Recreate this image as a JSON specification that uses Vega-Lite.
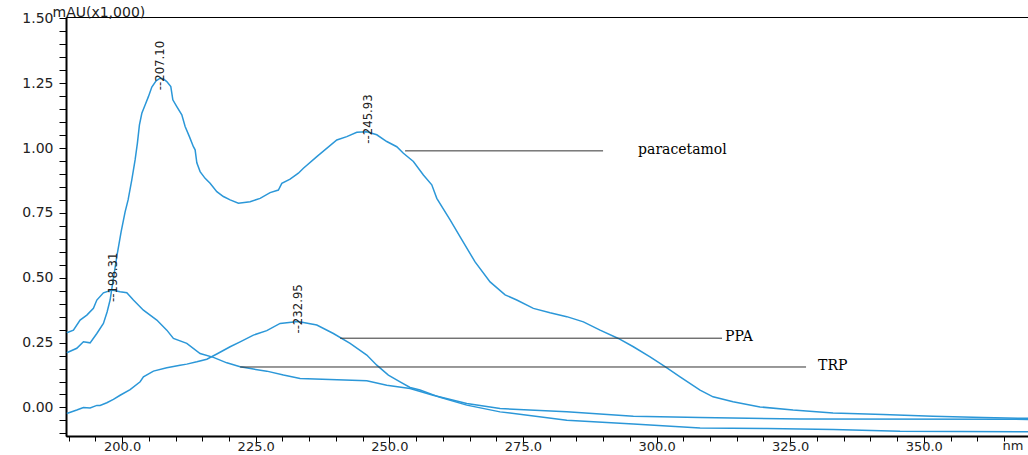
{
  "$schema": "https://vega.github.io/schema/vega-lite/v6.json",
  "width": 962,
  "height": 419,
  "autosize": {"type": "none"},
  "padding": {"left": 66, "top": 17, "right": 0, "bottom": 19},
  "background": "white",
  "config": {
    "view": {"stroke": "black", "strokeWidth": 1},
    "axis": {"grid": false}
  },
  "datasets": {
    "spectra": [
      {"series": "paracetamol", "nm": 189.65, "au": 0.211},
      {"series": "paracetamol", "nm": 191.52, "au": 0.228},
      {"series": "paracetamol", "nm": 192.76, "au": 0.253},
      {"series": "paracetamol", "nm": 194.01, "au": 0.249},
      {"series": "paracetamol", "nm": 195.27, "au": 0.285},
      {"series": "paracetamol", "nm": 196.50, "au": 0.324},
      {"series": "paracetamol", "nm": 197.19, "au": 0.368},
      {"series": "paracetamol", "nm": 197.75, "au": 0.414},
      {"series": "paracetamol", "nm": 198.32, "au": 0.491},
      {"series": "paracetamol", "nm": 199.06, "au": 0.588},
      {"series": "paracetamol", "nm": 199.81, "au": 0.677},
      {"series": "paracetamol", "nm": 200.56, "au": 0.754},
      {"series": "paracetamol", "nm": 201.12, "au": 0.800},
      {"series": "paracetamol", "nm": 201.81, "au": 0.877},
      {"series": "paracetamol", "nm": 202.43, "au": 0.954},
      {"series": "paracetamol", "nm": 202.86, "au": 1.019},
      {"series": "paracetamol", "nm": 203.24, "au": 1.089},
      {"series": "paracetamol", "nm": 203.69, "au": 1.134},
      {"series": "paracetamol", "nm": 204.30, "au": 1.166},
      {"series": "paracetamol", "nm": 204.92, "au": 1.198},
      {"series": "paracetamol", "nm": 205.56, "au": 1.235},
      {"series": "paracetamol", "nm": 206.36, "au": 1.259},
      {"series": "paracetamol", "nm": 207.11, "au": 1.269},
      {"series": "paracetamol", "nm": 207.67, "au": 1.267},
      {"series": "paracetamol", "nm": 208.36, "au": 1.256},
      {"series": "paracetamol", "nm": 209.11, "au": 1.237},
      {"series": "paracetamol", "nm": 209.49, "au": 1.186},
      {"series": "paracetamol", "nm": 210.23, "au": 1.160},
      {"series": "paracetamol", "nm": 211.17, "au": 1.128},
      {"series": "paracetamol", "nm": 211.79, "au": 1.083},
      {"series": "paracetamol", "nm": 212.59, "au": 1.044},
      {"series": "paracetamol", "nm": 213.34, "au": 1.005},
      {"series": "paracetamol", "nm": 213.66, "au": 0.993},
      {"series": "paracetamol", "nm": 213.98, "au": 0.943},
      {"series": "paracetamol", "nm": 214.59, "au": 0.909},
      {"series": "paracetamol", "nm": 215.53, "au": 0.883},
      {"series": "paracetamol", "nm": 216.46, "au": 0.864},
      {"series": "paracetamol", "nm": 217.72, "au": 0.832},
      {"series": "paracetamol", "nm": 218.95, "au": 0.813},
      {"series": "paracetamol", "nm": 220.21, "au": 0.800},
      {"series": "paracetamol", "nm": 221.76, "au": 0.787},
      {"series": "paracetamol", "nm": 223.95, "au": 0.793},
      {"series": "paracetamol", "nm": 225.82, "au": 0.806},
      {"series": "paracetamol", "nm": 227.69, "au": 0.828},
      {"series": "paracetamol", "nm": 229.24, "au": 0.838},
      {"series": "paracetamol", "nm": 229.88, "au": 0.864},
      {"series": "paracetamol", "nm": 231.43, "au": 0.880},
      {"series": "paracetamol", "nm": 232.98, "au": 0.903},
      {"series": "paracetamol", "nm": 233.92, "au": 0.922},
      {"series": "paracetamol", "nm": 236.43, "au": 0.967},
      {"series": "paracetamol", "nm": 240.17, "au": 1.031},
      {"series": "paracetamol", "nm": 242.04, "au": 1.044},
      {"series": "paracetamol", "nm": 243.91, "au": 1.061},
      {"series": "paracetamol", "nm": 245.78, "au": 1.063},
      {"series": "paracetamol", "nm": 247.65, "au": 1.051},
      {"series": "paracetamol", "nm": 249.52, "au": 1.025},
      {"series": "paracetamol", "nm": 251.39, "au": 1.005},
      {"series": "paracetamol", "nm": 252.63, "au": 0.980},
      {"series": "paracetamol", "nm": 254.50, "au": 0.948},
      {"series": "paracetamol", "nm": 256.37, "au": 0.896},
      {"series": "paracetamol", "nm": 257.94, "au": 0.858},
      {"series": "paracetamol", "nm": 258.88, "au": 0.806},
      {"series": "paracetamol", "nm": 261.37, "au": 0.723},
      {"series": "paracetamol", "nm": 263.61, "au": 0.645},
      {"series": "paracetamol", "nm": 266.04, "au": 0.561},
      {"series": "paracetamol", "nm": 268.85, "au": 0.484},
      {"series": "paracetamol", "nm": 271.66, "au": 0.434},
      {"series": "paracetamol", "nm": 273.84, "au": 0.414},
      {"series": "paracetamol", "nm": 276.95, "au": 0.382},
      {"series": "paracetamol", "nm": 280.07, "au": 0.365},
      {"series": "paracetamol", "nm": 283.20, "au": 0.350},
      {"series": "paracetamol", "nm": 286.31, "au": 0.330},
      {"series": "paracetamol", "nm": 289.43, "au": 0.298},
      {"series": "paracetamol", "nm": 292.85, "au": 0.266},
      {"series": "paracetamol", "nm": 295.66, "au": 0.234},
      {"series": "paracetamol", "nm": 298.78, "au": 0.195},
      {"series": "paracetamol", "nm": 301.59, "au": 0.157},
      {"series": "paracetamol", "nm": 304.40, "au": 0.118},
      {"series": "paracetamol", "nm": 308.14, "au": 0.067},
      {"series": "paracetamol", "nm": 310.57, "au": 0.041},
      {"series": "paracetamol", "nm": 314.31, "au": 0.022},
      {"series": "paracetamol", "nm": 319.36, "au": 0.002},
      {"series": "paracetamol", "nm": 325.54, "au": -0.010},
      {"series": "paracetamol", "nm": 333.02, "au": -0.021},
      {"series": "paracetamol", "nm": 342.38, "au": -0.027},
      {"series": "paracetamol", "nm": 351.73, "au": -0.034},
      {"series": "paracetamol", "nm": 361.08, "au": -0.039},
      {"series": "paracetamol", "nm": 369.50, "au": -0.042},

      {"series": "TRP", "nm": 189.65, "au": 0.288},
      {"series": "TRP", "nm": 190.89, "au": 0.298},
      {"series": "TRP", "nm": 192.14, "au": 0.337},
      {"series": "TRP", "nm": 193.40, "au": 0.356},
      {"series": "TRP", "nm": 194.63, "au": 0.382},
      {"series": "TRP", "nm": 195.27, "au": 0.414},
      {"series": "TRP", "nm": 196.50, "au": 0.442},
      {"series": "TRP", "nm": 198.07, "au": 0.453},
      {"series": "TRP", "nm": 199.63, "au": 0.446},
      {"series": "TRP", "nm": 200.88, "au": 0.442},
      {"series": "TRP", "nm": 202.11, "au": 0.414},
      {"series": "TRP", "nm": 203.99, "au": 0.375},
      {"series": "TRP", "nm": 206.49, "au": 0.337},
      {"series": "TRP", "nm": 208.36, "au": 0.298},
      {"series": "TRP", "nm": 209.60, "au": 0.266},
      {"series": "TRP", "nm": 212.10, "au": 0.247},
      {"series": "TRP", "nm": 214.59, "au": 0.208},
      {"series": "TRP", "nm": 217.08, "au": 0.193},
      {"series": "TRP", "nm": 219.59, "au": 0.172},
      {"series": "TRP", "nm": 222.08, "au": 0.157},
      {"series": "TRP", "nm": 224.56, "au": 0.148},
      {"series": "TRP", "nm": 227.07, "au": 0.140},
      {"series": "TRP", "nm": 230.18, "au": 0.125},
      {"series": "TRP", "nm": 233.30, "au": 0.112},
      {"series": "TRP", "nm": 245.78, "au": 0.103},
      {"series": "TRP", "nm": 249.52, "au": 0.086},
      {"series": "TRP", "nm": 253.88, "au": 0.073},
      {"series": "TRP", "nm": 258.18, "au": 0.047},
      {"series": "TRP", "nm": 264.49, "au": 0.015},
      {"series": "TRP", "nm": 270.72, "au": -0.004},
      {"series": "TRP", "nm": 283.20, "au": -0.017},
      {"series": "TRP", "nm": 295.66, "au": -0.034},
      {"series": "TRP", "nm": 308.14, "au": -0.039},
      {"series": "TRP", "nm": 326.85, "au": -0.044},
      {"series": "TRP", "nm": 369.50, "au": -0.046},

      {"series": "PPA", "nm": 189.65, "au": -0.023},
      {"series": "PPA", "nm": 191.52, "au": -0.010},
      {"series": "PPA", "nm": 192.76, "au": 0.000},
      {"series": "PPA", "nm": 194.01, "au": -0.002},
      {"series": "PPA", "nm": 195.27, "au": 0.008},
      {"series": "PPA", "nm": 195.88, "au": 0.008},
      {"series": "PPA", "nm": 197.14, "au": 0.018},
      {"series": "PPA", "nm": 198.37, "au": 0.031},
      {"series": "PPA", "nm": 199.63, "au": 0.047},
      {"series": "PPA", "nm": 201.50, "au": 0.069},
      {"series": "PPA", "nm": 203.37, "au": 0.099},
      {"series": "PPA", "nm": 203.99, "au": 0.118},
      {"series": "PPA", "nm": 205.86, "au": 0.140},
      {"series": "PPA", "nm": 208.36, "au": 0.153},
      {"series": "PPA", "nm": 210.85, "au": 0.163},
      {"series": "PPA", "nm": 212.10, "au": 0.167},
      {"series": "PPA", "nm": 213.98, "au": 0.176},
      {"series": "PPA", "nm": 215.85, "au": 0.186},
      {"series": "PPA", "nm": 217.72, "au": 0.206},
      {"series": "PPA", "nm": 220.21, "au": 0.234},
      {"series": "PPA", "nm": 222.08, "au": 0.253},
      {"series": "PPA", "nm": 224.56, "au": 0.279},
      {"series": "PPA", "nm": 227.07, "au": 0.296},
      {"series": "PPA", "nm": 229.56, "au": 0.324},
      {"series": "PPA", "nm": 232.93, "au": 0.331},
      {"series": "PPA", "nm": 236.43, "au": 0.318},
      {"series": "PPA", "nm": 239.53, "au": 0.285},
      {"series": "PPA", "nm": 242.66, "au": 0.247},
      {"series": "PPA", "nm": 245.78, "au": 0.202},
      {"series": "PPA", "nm": 247.65, "au": 0.163},
      {"series": "PPA", "nm": 249.82, "au": 0.125},
      {"series": "PPA", "nm": 252.01, "au": 0.099},
      {"series": "PPA", "nm": 253.88, "au": 0.077},
      {"series": "PPA", "nm": 255.75, "au": 0.067},
      {"series": "PPA", "nm": 259.49, "au": 0.039},
      {"series": "PPA", "nm": 264.49, "au": 0.009},
      {"series": "PPA", "nm": 270.72, "au": -0.017},
      {"series": "PPA", "nm": 283.20, "au": -0.049},
      {"series": "PPA", "nm": 295.66, "au": -0.064},
      {"series": "PPA", "nm": 308.14, "au": -0.079},
      {"series": "PPA", "nm": 320.62, "au": -0.081},
      {"series": "PPA", "nm": 333.08, "au": -0.085},
      {"series": "PPA", "nm": 345.56, "au": -0.092},
      {"series": "PPA", "nm": 369.50, "au": -0.094}
    ],
    "peaks": [
      {"nm": 198.31, "au": 0.453, "label": "--198.31"},
      {"nm": 207.10, "au": 1.269, "label": "--207.10"},
      {"nm": 232.95, "au": 0.331, "label": "--232.95"},
      {"nm": 245.93, "au": 1.063, "label": "--245.93"}
    ],
    "callout_lines": [
      {"name": "paracetamol", "nm": 252.95, "nm_end": 289.99, "au": 0.989},
      {"name": "PPA", "nm": 240.79, "nm_end": 312.25, "au": 0.267},
      {"name": "TRP", "nm": 222.08, "nm_end": 327.97, "au": 0.156}
    ],
    "callout_labels": [
      {"name": "paracetamol", "nm": 296.54, "au": 0.989},
      {"name": "PPA", "nm": 312.82, "au": 0.267},
      {"name": "TRP", "nm": 330.22, "au": 0.156}
    ]
  },
  "encoding": {
    "x": {
      "field": "nm", "type": "quantitative", "title": "nm",
      "scale": {"domain": [189.5, 369.5], "nice": false, "zero": false},
      "axis": {
        "titleX": 936, "titleY": 9, "titleAlign": "left", "titleBaseline": "middle",
        "titleFont": "DejaVu Sans", "titleFontSize": 13, "titleFontWeight": "normal", "titleColor": "#222",
        "values": [190,195,200,205,210,215,220,225,230,235,240,245,250,255,260,265,270,275,280,285,290,295,300,305,310,315,320,325,330,335,340,345,350,355,360,365],
        "labelExpr": "datum.value % 25 === 0 ? format(datum.value, '.1f') : ''",
        "labelFont": "DejaVu Sans", "labelFontSize": 13, "labelColor": "#222", "labelPadding": -3,
        "labelFlush": false, "labelOverlap": false,
        "domainColor": "black", "domainWidth": 2,
        "tickColor": "black", "tickWidth": 1,
        "tickSize": {"condition": {"test": "datum.value % 25 === 0", "value": 7}, "value": 5},
        "grid": false
      }
    },
    "y": {
      "field": "au", "type": "quantitative", "title": "mAU(x1,000)",
      "scale": {"domain": [-0.11, 1.505], "nice": false, "zero": false},
      "axis": {
        "titleAngle": 0, "titleX": -14, "titleY": -5, "titleAlign": "left", "titleBaseline": "middle",
        "titleFont": "DejaVu Sans", "titleFontSize": 14, "titleFontWeight": "normal", "titleColor": "#222",
        "values": [-0.1,-0.05,0,0.05,0.1,0.15,0.2,0.25,0.3,0.35,0.4,0.45,0.5,0.55,0.6,0.65,0.7,0.75,0.8,0.85,0.9,0.95,1,1.05,1.1,1.15,1.2,1.25,1.3,1.35,1.4,1.45,1.5],
        "labelExpr": "abs(datum.value*4 - round(datum.value*4)) < 0.001 && datum.value >= 0 ? format(datum.value, '.2f') : ''",
        "labelFont": "DejaVu Sans", "labelFontSize": 14, "labelColor": "#222", "labelPadding": 6,
        "labelOverlap": false, "labelFlush": false,
        "domainColor": "black", "domainWidth": 2,
        "tickColor": "black", "tickWidth": 1, "tickSize": 7,
        "grid": false
      }
    }
  },
  "layer": [
    {
      "data": {"name": "spectra"},
      "mark": {"type": "line", "color": "#2b97d8", "strokeWidth": 1.5, "interpolate": "linear"},
      "encoding": {
        "detail": {"field": "series", "type": "nominal"}
      }
    },
    {
      "data": {"name": "peaks"},
      "mark": {"type": "text", "angle": 270, "align": "left", "baseline": "middle", "dx": -12, "font": "Liberation Sans Narrow, DejaVu Sans Condensed, sans-serif", "fontSize": 13, "color": "#222"},
      "encoding": {
        "text": {"field": "label"}
      }
    },
    {
      "data": {"name": "callout_lines"},
      "mark": {"type": "rule", "color": "#333", "strokeWidth": 1},
      "encoding": {
        "x2": {"field": "nm_end"}
      }
    },
    {
      "data": {"name": "callout_labels"},
      "mark": {"type": "text", "align": "left", "baseline": "alphabetic", "dy": 3, "font": "DejaVu Serif", "fontSize": 14, "color": "black"},
      "encoding": {
        "text": {"field": "name"}
      }
    }
  ]
}
